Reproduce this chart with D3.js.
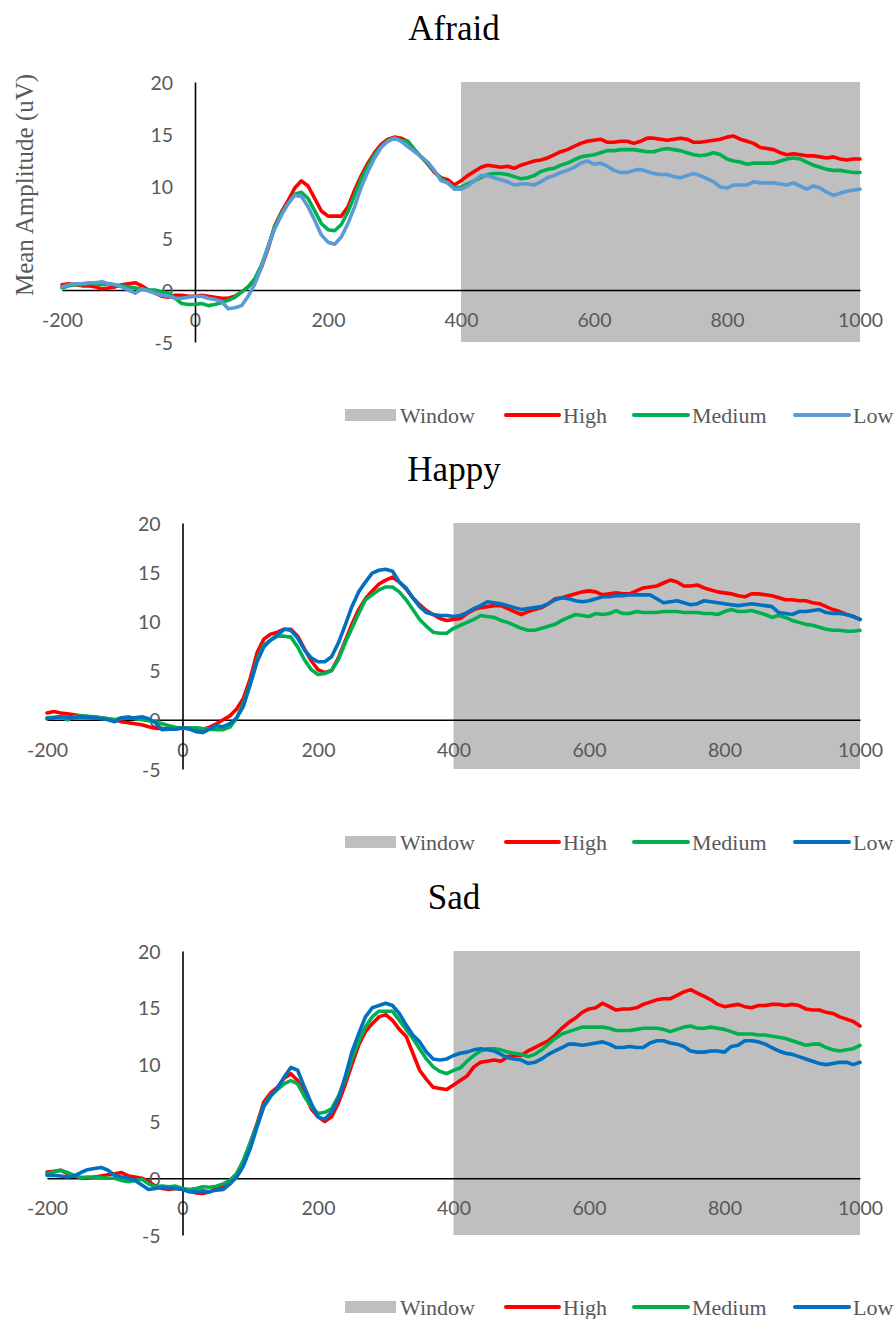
<!DOCTYPE html>
<html>
<head>
<meta charset="utf-8">
<script src="https://cdn.jsdelivr.net/npm/d3@7"></script>
<style>
  html, body { margin: 0; padding: 0; background: #fff; }
  svg { display: block; }
</style>
</head>
<body>
<svg id="chart" width="896" height="1319"></svg>
<script>
// ---------------- DATA ----------------
const seriesNames = ["High", "Medium", "Low"];
const legendNames = ["Window", "High", "Medium", "Low"];
const panelTitles = ["Afraid", "Happy", "Sad"];
const xTickValues = [-200, 0, 200, 400, 600, 800, 1000];
const yTickValues = [-5, 0, 5, 10, 15, 20];
const windowRange = [400, 1000];
const times = d3.range(-200, 1001, 10); // sample times (ms)

const afraidHigh = [
  0.5,0.6,0.5,0.4,0.4,0.3,0.1,0.2,0.3,0.5,
  0.6,0.7,0.4,0.0,-0.3,-0.6,-0.7,-0.5,-0.5,-0.6,
  -0.6,-0.5,-0.6,-0.7,-0.8,-0.8,-0.6,-0.2,0.3,1.0,
  2.2,4.0,6.2,7.5,8.6,9.8,10.5,10.0,8.8,7.6,
  7.1,7.1,7.1,8.0,9.6,11.0,12.2,13.2,14.0,14.5,
  14.7,14.6,14.3,13.5,12.8,12.1,11.3,10.8,10.6,10.1,
  10.5,11.0,11.4,11.8,12.0,11.9,11.8,11.9,11.7,12.0,
  12.2,12.4,12.5,12.7,13.0,13.3,13.5,13.8,14.1,14.3,
  14.4,14.5,14.2,14.2,14.3,14.3,14.1,14.3,14.6,14.6,
  14.5,14.4,14.5,14.6,14.5,14.2,14.2,14.3,14.4,14.5,
  14.7,14.8,14.5,14.3,14.1,13.7,13.6,13.5,13.2,13.0,
  13.1,13.0,12.9,12.9,12.8,12.7,12.8,12.6,12.5,12.6,
  12.6];
const afraidMedium = [
  0.2,0.4,0.5,0.5,0.6,0.6,0.5,0.6,0.5,0.4,
  0.3,0.2,0.1,0.0,0.0,-0.2,-0.3,-0.8,-1.3,-1.4,
  -1.4,-1.3,-1.5,-1.4,-1.2,-1.0,-0.7,-0.2,0.3,1.1,
  2.4,4.2,6.1,7.4,8.3,9.2,9.4,8.8,7.6,6.4,
  5.8,5.7,6.3,7.5,9.1,10.7,11.9,13.0,13.8,14.4,
  14.6,14.4,14.3,13.5,12.8,12.2,11.4,10.7,10.3,9.8,
  9.9,10.2,10.5,10.8,11.1,11.2,11.2,11.1,10.9,10.7,
  10.8,11.0,11.4,11.6,11.7,12.0,12.2,12.5,12.8,12.9,
  13.0,13.2,13.4,13.4,13.5,13.5,13.5,13.4,13.3,13.3,
  13.5,13.6,13.5,13.4,13.2,13.0,12.9,13.0,13.2,13.0,
  12.6,12.4,12.3,12.1,12.2,12.2,12.2,12.2,12.4,12.6,
  12.7,12.6,12.3,12.0,11.8,11.6,11.5,11.5,11.4,11.3,
  11.3];
const afraidLow = [
  0.3,0.5,0.6,0.6,0.7,0.7,0.8,0.6,0.5,0.3,
  0.0,-0.3,0.1,-0.1,-0.3,-0.5,-0.6,-0.8,-0.8,-0.7,
  -0.6,-0.6,-0.8,-0.9,-1.1,-1.8,-1.7,-1.5,-0.6,0.6,
  2.2,4.2,5.9,7.2,8.3,9.1,9.0,8.0,6.7,5.3,
  4.6,4.4,5.1,6.4,8.0,9.9,11.4,12.7,13.7,14.3,
  14.6,14.3,13.8,13.3,12.8,12.3,11.5,10.5,10.3,9.7,
  9.7,10.0,10.5,11.0,11.0,10.8,10.6,10.4,10.1,10.2,
  10.2,10.1,10.4,10.8,11.0,11.3,11.5,11.8,12.2,12.4,
  12.1,12.2,11.9,11.5,11.3,11.3,11.5,11.6,11.4,11.2,
  11.1,11.1,10.9,10.8,11.0,11.2,11.0,10.7,10.4,9.9,
  9.8,10.1,10.1,10.1,10.4,10.3,10.3,10.3,10.2,10.1,
  10.3,10.0,9.7,10.0,9.8,9.4,9.1,9.3,9.5,9.6,
  9.7];

const happyHigh = [
  0.7,0.85,0.7,0.6,0.5,0.4,0.3,0.25,0.2,0.1,
  0.0,-0.2,-0.3,-0.4,-0.5,-0.7,-0.85,-0.9,-0.95,-0.9,
  -0.85,-0.85,-0.9,-0.95,-0.75,-0.4,0.0,0.4,1.1,2.2,
  4.2,6.8,8.2,8.7,8.9,9.2,9.2,8.5,7.2,6.0,
  5.1,4.8,5.0,6.3,8.0,9.7,11.2,12.3,13.1,13.8,
  14.2,14.5,14.0,13.3,12.4,11.7,11.1,10.7,10.3,10.1,
  10.2,10.3,10.8,11.2,11.4,11.5,11.6,11.6,11.3,11.0,
  10.7,11.0,11.2,11.4,11.8,12.3,12.4,12.6,12.8,13.0,
  13.1,13.0,12.7,12.8,12.9,12.8,12.8,13.1,13.4,13.5,
  13.6,13.9,14.2,14.0,13.6,13.6,13.7,13.4,13.2,13.0,
  12.9,12.8,12.6,12.5,12.8,12.8,12.7,12.6,12.4,12.2,
  12.2,12.1,12.1,11.9,11.8,11.5,11.2,11.0,10.7,10.5,
  10.2];
const happyMedium = [
  0.2,0.25,0.3,0.0,0.3,0.4,0.35,0.3,0.2,0.1,
  0.0,0.2,0.3,0.1,0.0,-0.1,-0.2,-0.4,-0.6,-0.75,
  -0.85,-0.85,-0.8,-0.9,-0.95,-1.0,-1.0,-0.75,0.2,1.7,
  3.7,6.1,7.6,8.1,8.5,8.5,8.4,7.4,6.1,5.1,
  4.6,4.7,5.0,6.1,7.8,9.3,10.8,12.2,12.7,13.2,
  13.5,13.5,13.0,12.2,11.2,10.2,9.5,8.9,8.8,8.8,
  9.3,9.6,9.9,10.2,10.6,10.5,10.4,10.1,9.9,9.6,
  9.3,9.1,9.1,9.3,9.5,9.7,10.1,10.4,10.7,10.6,
  10.5,10.8,10.7,10.8,11.1,10.8,10.8,11.0,10.9,10.9,
  10.9,11.0,11.0,11.0,10.9,10.9,10.9,10.8,10.8,10.7,
  11.0,11.2,11.0,11.0,11.1,10.9,10.7,10.4,10.6,10.4,
  10.1,9.9,9.7,9.6,9.4,9.2,9.1,9.1,9.0,9.0,
  9.1];
const happyLow = [
  0.1,0.2,0.3,0.25,0.2,0.3,0.25,0.2,0.1,0.0,
  -0.2,0.2,0.2,0.2,0.3,0.1,-0.3,-1.0,-0.95,-0.95,
  -0.8,-0.95,-1.2,-1.3,-0.95,-0.6,-0.7,-0.4,0.2,1.4,
  3.6,5.9,7.4,8.1,8.6,9.2,9.1,8.3,7.1,6.3,
  5.9,5.9,6.4,7.8,9.6,11.5,13.0,14.0,14.9,15.2,
  15.3,15.1,14.0,13.4,12.4,11.5,10.9,10.7,10.6,10.6,
  10.5,10.6,10.9,11.3,11.6,12.0,11.9,11.8,11.6,11.4,
  11.2,11.3,11.4,11.5,11.8,12.2,12.4,12.3,12.1,12.0,
  12.1,12.3,12.5,12.5,12.6,12.6,12.7,12.7,12.7,12.7,
  12.3,11.9,12.0,12.1,11.9,11.7,11.8,12.1,12.0,11.9,
  11.8,11.7,11.6,11.7,11.8,11.7,11.6,11.5,10.9,10.8,
  10.7,11.0,11.0,11.1,11.2,10.9,10.8,10.8,10.7,10.5,
  10.2];

const sadHigh = [
  0.55,0.6,0.7,0.4,0.2,0.05,0.0,0.1,0.2,0.3,
  0.4,0.5,0.2,0.1,0.0,-0.3,-0.7,-0.9,-1.0,-0.9,
  -1.0,-1.1,-1.3,-1.35,-1.2,-0.9,-0.7,-0.2,0.4,1.4,
  3.1,4.8,6.7,7.5,8.0,8.8,9.2,8.6,7.5,6.1,
  5.4,5.0,5.4,6.6,8.2,10.0,11.7,12.9,13.6,14.2,
  14.4,13.9,13.1,12.5,11.0,9.5,8.7,8.0,7.9,7.8,
  8.2,8.6,9.0,9.8,10.2,10.3,10.4,10.3,10.7,10.8,
  10.8,11.2,11.5,11.8,12.1,12.6,13.2,13.7,14.1,14.6,
  14.9,15.0,15.4,15.1,14.8,14.9,14.9,15.0,15.3,15.5,
  15.7,15.8,15.8,16.1,16.4,16.6,16.3,16.0,15.7,15.3,
  15.1,15.2,15.3,15.1,15.0,15.2,15.2,15.3,15.3,15.2,
  15.3,15.2,14.9,14.8,14.8,14.6,14.5,14.2,14.0,13.8,
  13.4];
const sadMedium = [
  0.4,0.55,0.7,0.5,0.25,0.05,0.1,0.1,0.05,0.0,
  0.0,-0.2,-0.3,-0.2,-0.1,-0.5,-0.75,-0.7,-0.75,-0.7,
  -0.9,-1.0,-0.9,-0.75,-0.8,-0.7,-0.5,-0.2,0.4,1.6,
  3.1,4.7,6.4,7.3,7.8,8.3,8.6,8.3,7.2,6.3,
  5.7,5.8,6.1,7.2,8.6,10.5,12.0,13.3,14.2,14.7,
  14.7,14.7,13.9,13.1,12.3,11.4,10.5,9.8,9.4,9.2,
  9.5,9.7,10.3,10.8,11.2,11.4,11.4,11.3,11.1,11.0,
  10.9,10.7,10.9,11.3,11.8,12.3,12.7,12.9,13.1,13.3,
  13.3,13.3,13.3,13.2,13.0,13.0,13.0,13.1,13.2,13.2,
  13.2,13.1,12.9,13.1,13.3,13.4,13.2,13.2,13.3,13.2,
  13.1,12.9,12.7,12.7,12.7,12.6,12.6,12.5,12.4,12.3,
  12.1,11.9,11.7,11.8,11.8,11.5,11.3,11.2,11.3,11.4,
  11.7];
const sadLow = [
  0.25,0.25,0.2,0.1,0.2,0.5,0.75,0.85,0.95,0.7,
  0.25,0.1,0.0,-0.2,-0.6,-1.0,-0.9,-0.8,-0.9,-0.9,
  -1.0,-1.2,-1.2,-1.1,-1.2,-1.05,-1.0,-0.5,0.1,1.1,
  2.6,4.5,6.3,7.2,7.9,8.9,9.75,9.5,8.0,6.6,
  5.4,5.2,5.8,7.0,8.9,11.1,12.7,14.2,15.0,15.2,
  15.4,15.2,14.5,13.5,12.6,12.0,11.1,10.5,10.4,10.5,
  10.8,11.0,11.1,11.3,11.4,11.3,11.2,10.9,10.6,10.5,
  10.4,10.1,10.2,10.5,10.9,11.2,11.5,11.8,11.8,11.7,
  11.8,11.9,12.0,11.8,11.5,11.5,11.6,11.5,11.5,11.9,
  12.1,12.1,11.9,11.8,11.6,11.2,11.1,11.1,11.2,11.2,
  11.1,11.6,11.7,12.1,12.1,12.0,11.8,11.5,11.2,11.0,
  10.9,10.7,10.5,10.3,10.1,10.0,10.1,10.2,10.2,10.0,
  10.2];

// ---------------- LAYOUT ----------------
const svg = d3.select("#chart");
const serifFont = "'Liberation Serif', 'Times New Roman', serif";
const tickFont = "Lato, Carlito, Calibri, sans-serif";
const greyText = "#595959";
const windowColor = "#bfbfbf";
const plainNum = d => String(d);   // hyphen-minus like the reference

const panels = [
  { title: panelTitles[0], series: [afraidHigh, afraidMedium, afraidLow],
    colors: ["#ff0000", "#00b050", "#5b9bd5"],
    x0: 62, x1: 860, yTop: 82, yBot: 342, titleY: 40, legendY: 415, yTitle: true },
  { title: panelTitles[1], series: [happyHigh, happyMedium, happyLow],
    colors: ["#ff0000", "#00b050", "#0070c0"],
    x0: 47, x1: 860, yTop: 523, yBot: 769, titleY: 481, legendY: 842, yTitle: false },
  { title: panelTitles[2], series: [sadHigh, sadMedium, sadLow],
    colors: ["#ff0000", "#00b050", "#0070c0"],
    x0: 47, x1: 860, yTop: 951, yBot: 1235, titleY: 909, legendY: 1307, yTitle: false }
];

panels.forEach(p => {
  const g = svg.append("g");
  const x = d3.scaleLinear().domain([-200, 1000]).range([p.x0, p.x1]);
  const y = d3.scaleLinear().domain([-5, 20]).range([p.yBot, p.yTop]);

  // Title
  g.append("text")
    .attr("x", 454).attr("y", p.titleY)
    .attr("text-anchor", "middle")
    .style("font-family", serifFont).style("font-size", "35px")
    .attr("fill", "#000")
    .text(p.title);

  // Analysis window
  g.append("rect")
    .attr("x", x(windowRange[0])).attr("y", y(20))
    .attr("width", x(windowRange[1]) - x(windowRange[0]))
    .attr("height", y(-5) - y(20))
    .attr("fill", windowColor);

  // X axis at y=0
  const xAxis = g.append("g")
    .attr("transform", `translate(0,${y(0)})`)
    .call(d3.axisBottom(x).tickValues(xTickValues).tickSize(0).tickFormat(plainNum));
  xAxis.select(".domain").attr("stroke", "#000").attr("stroke-width", 1.6);
  xAxis.selectAll("text")
    .attr("y", 30).attr("dy", "0.36em")
    .attr("fill", greyText)
    .style("font-family", tickFont).style("font-size", "19.5px");

  // Y axis at x=0
  const yAxis = g.append("g")
    .attr("transform", `translate(${x(0)},0)`)
    .call(d3.axisLeft(y).tickValues(yTickValues).tickSize(0).tickPadding(22).tickFormat(plainNum));
  yAxis.select(".domain").attr("stroke", "#000").attr("stroke-width", 1.6);
  yAxis.selectAll("text")
    .attr("dy", "0.36em")
    .attr("fill", greyText)
    .style("font-family", tickFont).style("font-size", "19.5px");

  // Y title
  if (p.yTitle) {
    g.append("text")
      .attr("transform", `translate(33,185) rotate(-90)`)
      .attr("text-anchor", "middle")
      .style("font-family", serifFont).style("font-size", "25px")
      .attr("fill", greyText)
      .text("Mean Amplitude (uV)");
  }

  // Series lines
  p.series.forEach((vals, si) => {
    const n = Math.min(vals.length, times.length);
    const pts = d3.range(n).map(i => [times[i], vals[i]]);
    const line = d3.line().x(d => x(d[0])).y(d => y(d[1]));
    g.append("path")
      .datum(pts)
      .attr("d", line)
      .attr("fill", "none")
      .attr("stroke", p.colors[si])
      .attr("stroke-width", 3.6)
      .attr("stroke-linejoin", "round")
      .attr("stroke-linecap", "round");
  });

  // Legend
  const lg = g.append("g");
  const ly = p.legendY;
  const itemX = [345, 506, 634, 795];
  const symW = [51, 53, 54, 54];
  legendNames.forEach((name, i) => {
    if (i === 0) {
      lg.append("rect").attr("x", itemX[i]).attr("y", ly - 6)
        .attr("width", symW[i]).attr("height", 12).attr("fill", windowColor);
    } else {
      lg.append("line")
        .attr("x1", itemX[i]).attr("x2", itemX[i] + symW[i])
        .attr("y1", ly).attr("y2", ly)
        .attr("stroke", p.colors[i - 1]).attr("stroke-width", 4)
        .attr("stroke-linecap", "round");
    }
    lg.append("text")
      .attr("x", itemX[i] + symW[i] + 4).attr("y", ly + 8)
      .style("font-family", serifFont).style("font-size", "22px")
      .attr("fill", greyText)
      .text(name);
  });
});
</script>
</body>
</html>
